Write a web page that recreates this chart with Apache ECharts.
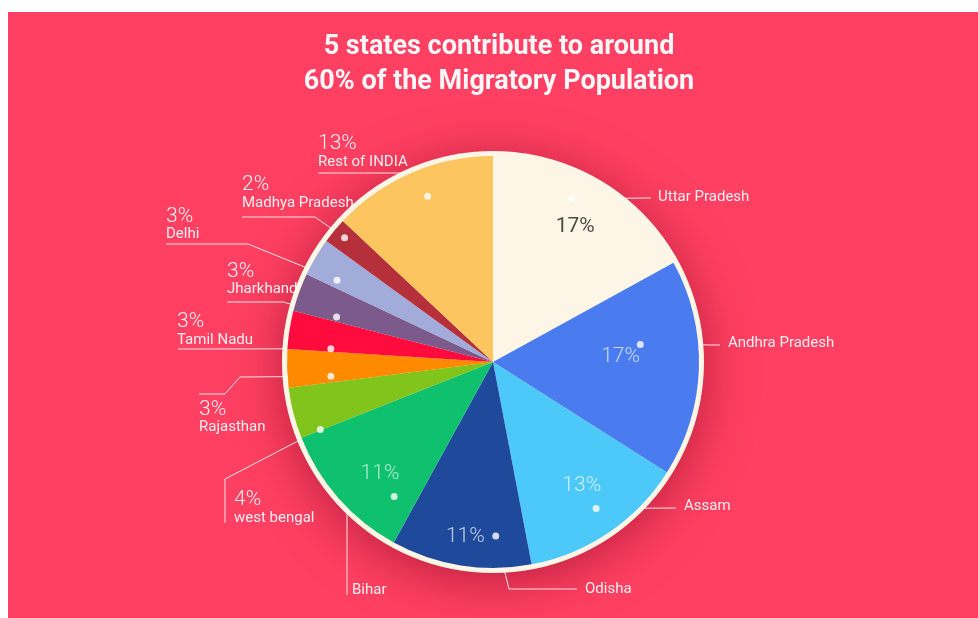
<!DOCTYPE html>
<html>
<head>
<meta charset="utf-8">
<script src="https://cdn.jsdelivr.net/npm/echarts@6/dist/echarts.min.js"></script>
<style>
  html, body { margin: 0; padding: 0; background: #ffffff; width: 978px; height: 618px; overflow: hidden; }
  #panel { position: absolute; left: 8px; top: 12px; width: 970px; height: 606px; background: #ff4062; }
  #chart { position: absolute; left: 0; top: 0; width: 978px; height: 618px; }
</style>
</head>
<body>
<div id="panel"></div>
<div id="chart"></div>
<script>
// ---- data ----
const states = ['Uttar Pradesh', 'Andhra Pradesh', 'Assam', 'Odisha', 'Bihar', 'west bengal',
  'Rajasthan', 'Tamil Nadu', 'Jharkhand', 'Delhi', 'Madhya Pradesh', 'Rest of INDIA'];
const shares = [17, 17, 13, 11, 11, 4, 3, 3, 3, 3, 2, 13];
const titleLines = ['5 states contribute to around', '60% of the Migratory Population'];
// states whose percentage is printed inside their slice
const insidePct = ['Uttar Pradesh', 'Andhra Pradesh', 'Assam', 'Odisha', 'Bihar'];

// ---- styling / layout ----
const sliceColors = ['#fdf6e7', '#4a7cf0', '#4cc9f9', '#1f4a9c', '#0fc06e', '#80c41c',
  '#ff8a00', '#ff0b3d', '#7c5a8c', '#a2acdb', '#b5303a', '#fcc560'];
const CX = 493, CY = 362, R = 206;
// leader dot inside each slice: [fraction across the slice angle, fraction of radius]
const dotAnchor = [[.42, .88], [.36, .72], [.48, .87], [.25, .845], [.19, .81], [.02, .9],
  [.2, .79], [.1, .79], [.15, .79], [.23, .855], [.55, .94], [.54, .865]];
// percentage text inside the large slices: [fraction across slice, fraction of radius]
const pctAnchor = [[.51, .77], [.43, .62], [.47, .74], [.5, .86], [.42, .77]];
const pctColors = ['#1e1e1e', 'rgba(255,255,255,0.88)', 'rgba(255,255,255,0.88)',
  'rgba(255,255,255,0.9)', 'rgba(255,255,255,0.85)'];
const pctWeights = [400, 300, 300, 300, 300];
// label boxes [left, top] and the bends of each leader line
const labelBox = [[658, 189.5], [728, 335.3], [684, 498.7], [585, 581], [352, 582.5], [234, 490],
  [199, 399.5], [177, 312], [227, 261.5], [166, 206.5], [242, 175], [318, 134]];
const bends = [
  [[651, 198]],
  [[720, 345]],
  [[676, 508]],
  [[509, 589], [577, 589]],
  [[347, 496], [347, 595]],
  [[225, 479], [225, 523]],
  [[240, 377], [225, 394], [199, 394]],
  [[178, 349]],
  [[283, 302], [227, 302]],
  [[248, 244], [166, 244]],
  [[315, 217], [242, 217]],
  [[405, 173], [318, 173]]
];

// cumulative start of each slice, in percent of the full circle
const starts = [];
shares.reduce((acc, v, i) => { starts[i] = acc; return acc + v; }, 0);
const total = shares.reduce((a, b) => a + b, 0);

function anglePct(i, t) { return (starts[i] + t * shares[i]) / total * 100; }
function toPixel(rFrac, pct) {
  const a = pct / 100 * Math.PI * 2;
  return [CX + R * rFrac * Math.sin(a), CY - R * rFrac * Math.cos(a)];
}

const labelColor = 'rgba(255,255,255,0.9)';
const font = 'Roboto, "Noto Sans", sans-serif';

const chart = echarts.init(document.getElementById('chart'), null, { renderer: 'canvas' });

const option = {
  animation: false,
  backgroundColor: 'transparent',
  title: {
    text: titleLines.join('\n'),
    left: 494,
    top: 25,
    textAlign: 'center',
    textStyle: { color: '#fff6f8', fontSize: 27, fontWeight: 'bold', lineHeight: 34.5, fontFamily: font }
  },
  polar: { center: [CX, CY], radius: R },
  angleAxis: { type: 'value', min: 0, max: 100, startAngle: 90, clockwise: true, show: false },
  radiusAxis: { type: 'value', min: 0, max: 1, show: false },
  series: [
    {
      // cream rim with soft shadow behind the pie
      type: 'pie', silent: true, z: 1,
      center: [CX, CY], radius: [0, R + 5],
      label: { show: false }, labelLine: { show: false },
      itemStyle: { color: '#fdf5e6', shadowBlur: 50, shadowColor: 'rgba(120,0,25,0.5)', shadowOffsetY: 8 },
      data: [{ value: 1, name: 'rim' }]
    },
    {
      type: 'pie', z: 2,
      center: [CX, CY], radius: [0, R],
      startAngle: 90, clockwise: true,
      avoidLabelOverlap: false,
      emphasis: { disabled: true },
      itemStyle: { borderWidth: 0 },
      data: states.map((s, i) => ({ name: s, value: shares[i], itemStyle: { color: sliceColors[i] } })),
      label: {
        show: true,
        position: 'outside',
        fontFamily: font,
        formatter: p => insidePct.includes(p.name) ? `{n|${p.name}}` : `{p|${p.value}%}\n{n|${p.name}}`,
        rich: {
          p: { fontSize: 21, lineHeight: 20, fontWeight: 300, color: labelColor, fontFamily: font },
          n: { fontSize: 15, lineHeight: 16, color: labelColor, fontFamily: font }
        }
      },
      labelLine: { show: true, smooth: false, length: 10, length2: 10,
        lineStyle: { color: 'rgba(255,255,255,0.85)', width: 1 } },
      labelLayout: function (p) {
        const i = p.dataIndex;
        const a = dotAnchor[i];
        const dot = toPixel(a[1], anglePct(i, a[0]));
        return {
          x: labelBox[i][0], y: labelBox[i][1], align: 'left', verticalAlign: 'top',
          labelLinePoints: [dot].concat(bends[i])
        };
      }
    },
    {
      // percentages printed inside the large slices
      type: 'scatter', coordinateSystem: 'polar', z: 5, silent: true,
      symbolSize: 1, itemStyle: { color: 'rgba(0,0,0,0)' },
      data: insidePct.map((s, k) => {
        const i = states.indexOf(s);
        return {
          value: [pctAnchor[k][1], anglePct(i, pctAnchor[k][0])],
          label: { show: true, position: 'inside', formatter: shares[i] + '%', color: pctColors[k],
            fontSize: 21, fontWeight: pctWeights[k], fontFamily: font }
        };
      })
    },
    {
      // leader-line dots
      type: 'scatter', coordinateSystem: 'polar', z: 6, silent: true,
      symbol: 'circle', symbolSize: 7,
      itemStyle: { color: '#ffffff' },
      data: states.map((s, i) => [dotAnchor[i][1], anglePct(i, dotAnchor[i][0])])
    }
  ]
};
chart.setOption(option);
</script>
</body>
</html>
